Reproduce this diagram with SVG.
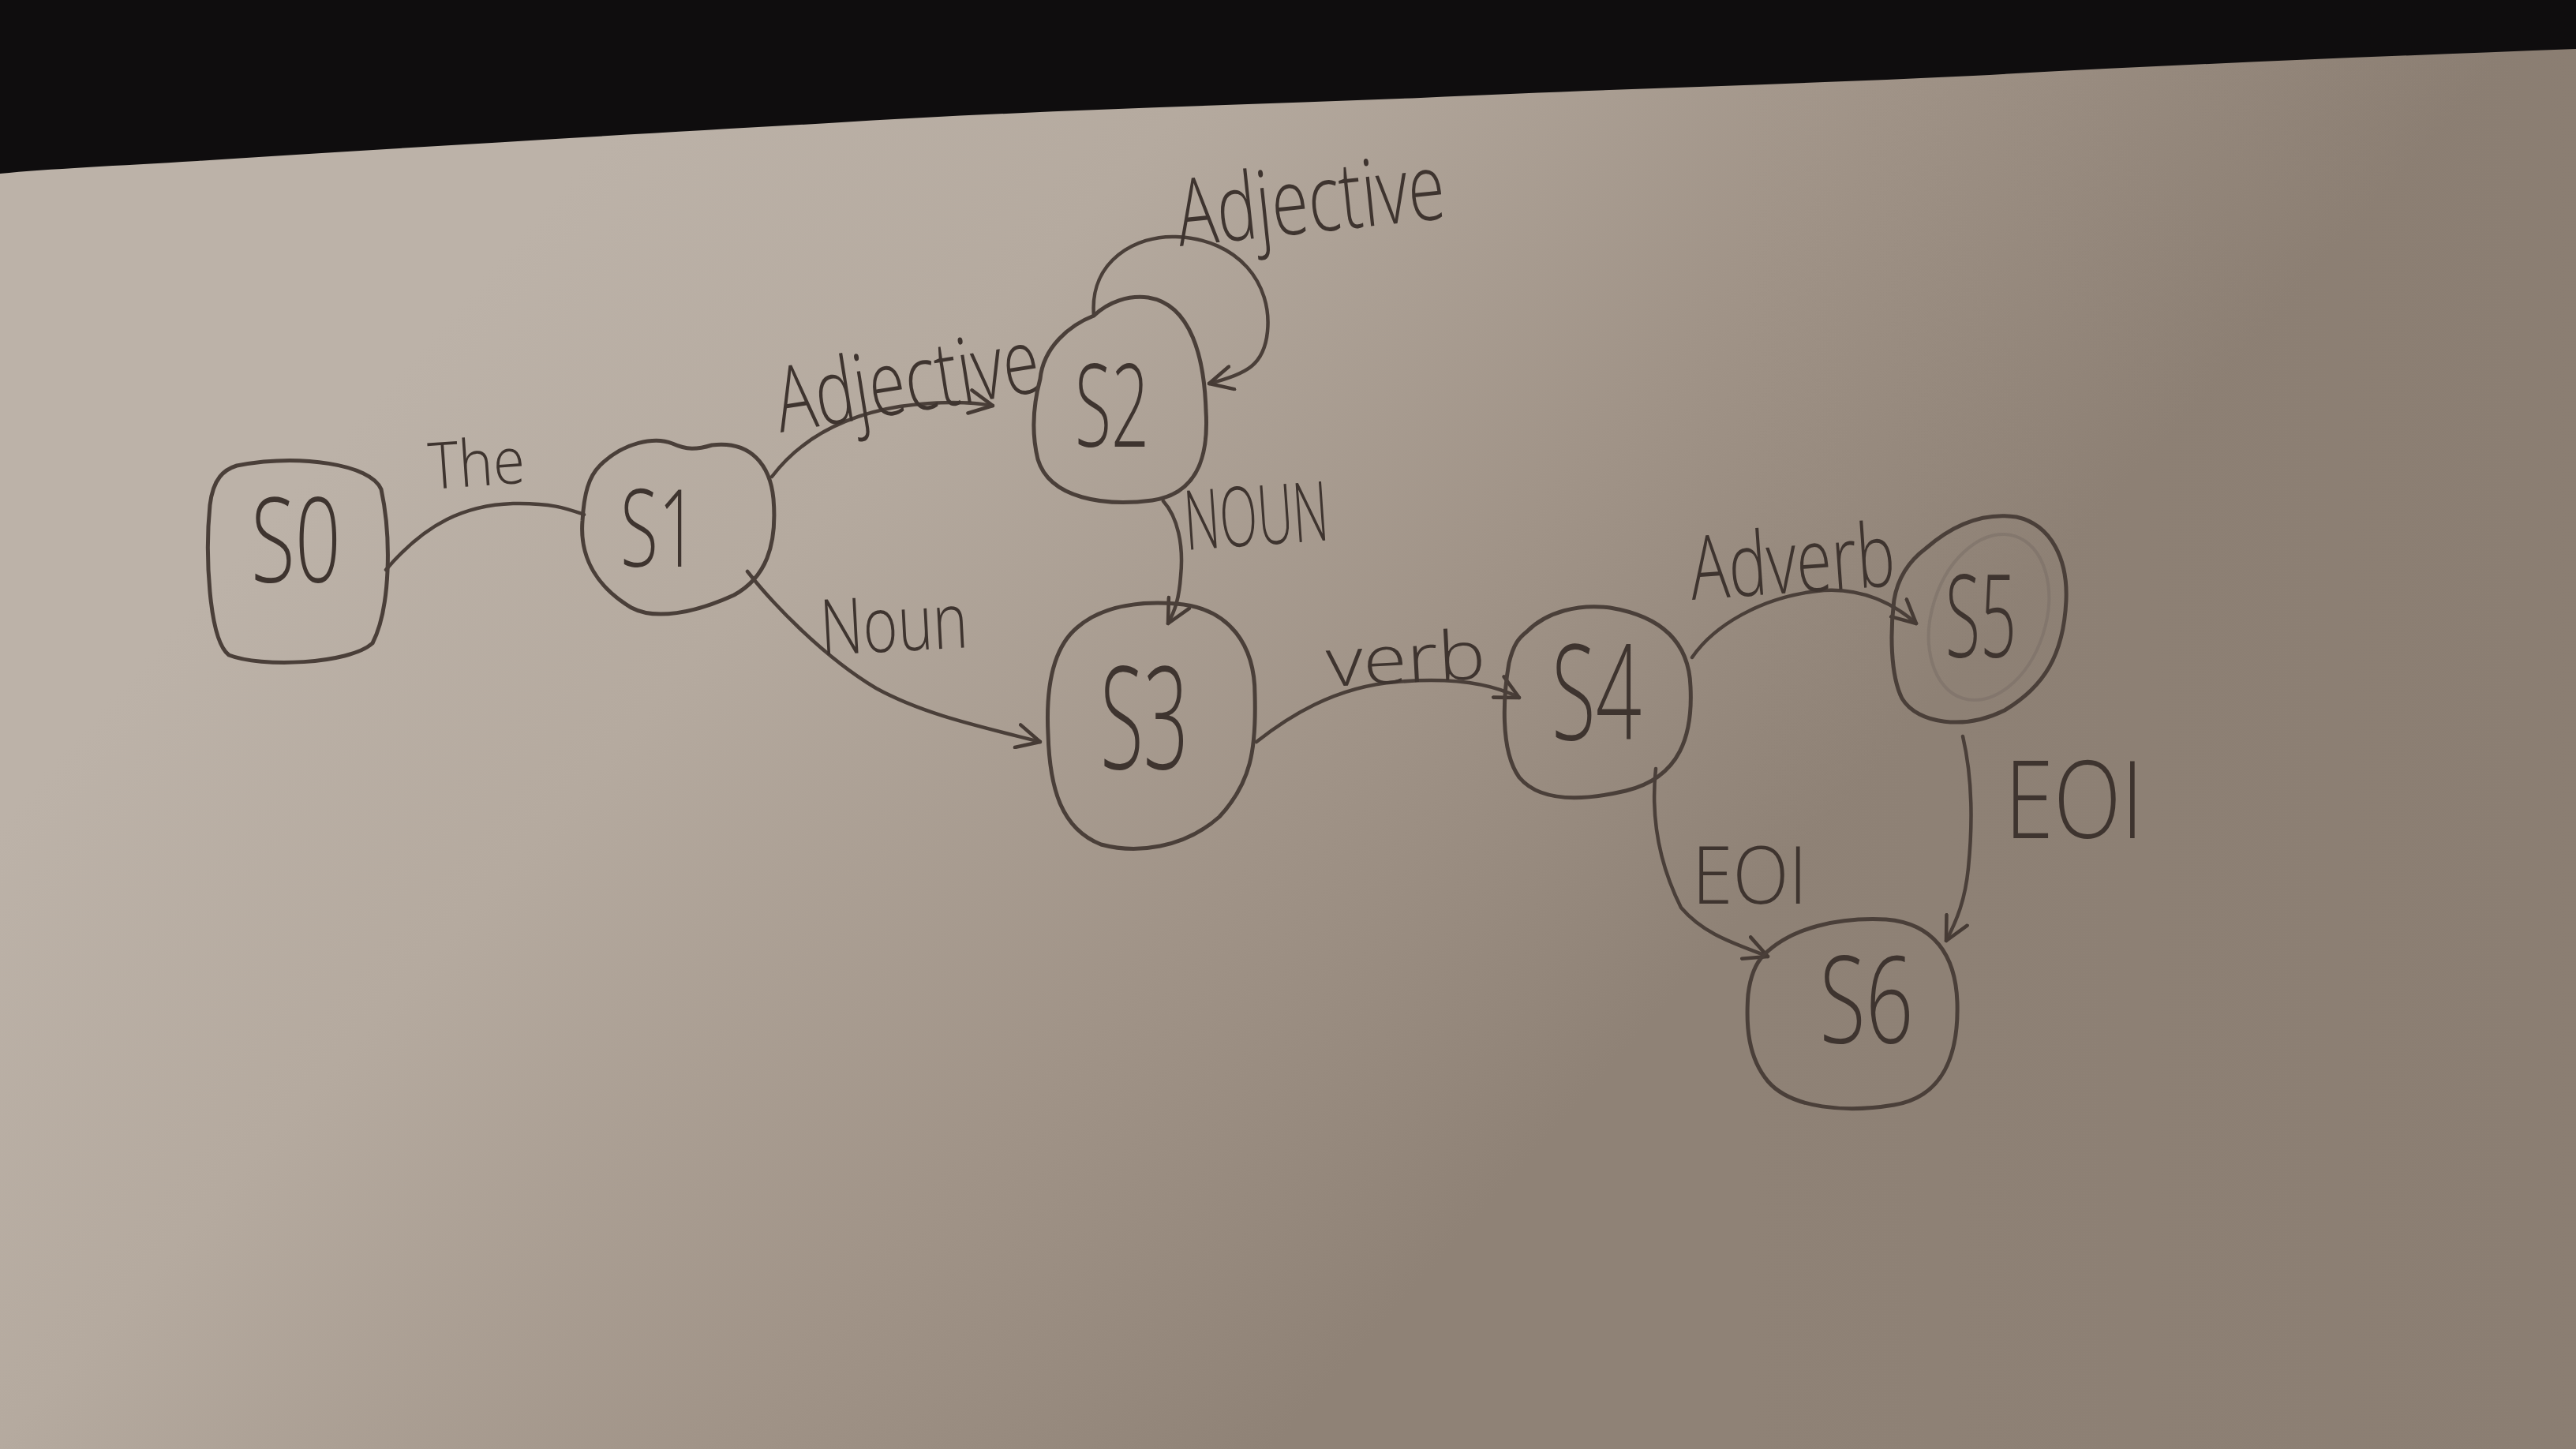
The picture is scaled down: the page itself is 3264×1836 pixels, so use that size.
<svg xmlns="http://www.w3.org/2000/svg" width="3264" height="1836" viewBox="0 0 3264 1836">
<defs>
<linearGradient id="paper" x1="700" y1="250" x2="2000" y2="1400" gradientUnits="userSpaceOnUse">
<stop offset="0" stop-color="#bcb2a8"/>
<stop offset="0.3" stop-color="#b5aa9f"/>
<stop offset="0.7" stop-color="#a09387"/>
<stop offset="1" stop-color="#8f8276"/>
</linearGradient>
<linearGradient id="shade" x1="2200" y1="0" x2="3264" y2="0" gradientUnits="userSpaceOnUse">
<stop offset="0" stop-color="#7a6d62" stop-opacity="0"/>
<stop offset="1" stop-color="#7a6d62" stop-opacity="0.2"/>
</linearGradient>
<marker id="arr" viewBox="0 0 30 30" refX="28" refY="15" markerWidth="34" markerHeight="34" markerUnits="userSpaceOnUse" orient="auto">
<path d="M2,2 L28,15 L2,28" fill="none" stroke="#463b35" stroke-width="4" stroke-linecap="round" stroke-linejoin="round"/>
</marker>
<style>
.n{fill:none;stroke:#4a3f39;stroke-width:5;stroke-linecap:round;stroke-linejoin:round}
.e{fill:none;stroke:#4a3f39;stroke-width:4.5;stroke-linecap:round}
.t{font-family:"Open Sans","Liberation Sans",sans-serif;font-weight:300;fill:#3e342f}
</style>
</defs>
<rect x="0" y="0" width="3264" height="1836" fill="url(#paper)"/>
<rect x="0" y="0" width="3264" height="1836" fill="url(#shade)"/>
<path d="M0,0 H3264 V62 C3000,72 2750,82 2500,96 C2250,108 2050,112 1800,124 C1550,134 1300,140 1050,156 C800,170 500,188 250,204 C150,210 60,214 0,220 Z" fill="#0f0d0e"/>

<g id="connectors">
<path id="e-s0-s1" class="e" d="M489,722 C540,662 590,640 650,638 C700,637 720,645 740,652"/>
<path id="e-s1-s2" class="e" marker-end="url(#arr)" d="M978,604 C1010,562 1060,528 1140,515 C1200,507 1235,510 1258,514"/>
<path id="e-s2-s2" class="e" marker-end="url(#arr)" d="M1386,400 C1380,330 1440,298 1490,300 C1570,303 1612,360 1606,420 C1602,462 1580,474 1532,486"/>
<path id="e-s2-s3" class="e" marker-end="url(#arr)" d="M1474,635 C1492,655 1500,690 1496,730 C1494,760 1488,775 1480,790"/>
<path id="e-s1-s3" class="e" marker-end="url(#arr)" d="M947,724 C975,760 1040,830 1110,872 C1170,905 1240,920 1318,940"/>
<path id="e-s3-s4" class="e" marker-end="url(#arr)" d="M1592,940 C1630,910 1690,870 1770,864 C1840,858 1890,866 1925,884"/>
<path id="e-s4-s5" class="e" marker-end="url(#arr)" d="M2144,833 C2170,795 2230,755 2311,748 C2360,745 2400,765 2428,790"/>
<path id="e-s4-s6" class="e" marker-end="url(#arr)" d="M2098,974 C2092,1030 2100,1090 2130,1150 C2160,1185 2200,1196 2240,1212"/>
<path id="e-s5-s6" class="e" marker-end="url(#arr)" d="M2487,933 C2498,980 2500,1040 2494,1100 C2490,1140 2480,1165 2466,1192"/>
<text class="t" x="545" y="620" font-size="82" textLength="122" lengthAdjust="spacingAndGlyphs" transform="rotate(-4 545 620)">The</text>
<text class="t" x="989" y="548" font-size="115" textLength="337" lengthAdjust="spacingAndGlyphs" transform="rotate(-9 989 548)">Adjective</text>
<text class="t" x="1495" y="312" font-size="118" textLength="341" lengthAdjust="spacingAndGlyphs" transform="rotate(-6 1495 312)">Adjective</text>
<text class="t" x="1503" y="697" font-size="105" textLength="183" lengthAdjust="spacingAndGlyphs" transform="rotate(-4 1503 697)">NOUN</text>
<text class="t" x="1041" y="830" font-size="98" textLength="187" lengthAdjust="spacingAndGlyphs" transform="rotate(-3 1041 830)">Noun</text>
<text class="t" x="1682" y="870" font-size="86" textLength="202" lengthAdjust="spacingAndGlyphs" transform="rotate(-3 1682 870)">verb</text>
<text class="t" x="2144" y="760" font-size="112" textLength="260" lengthAdjust="spacingAndGlyphs" transform="rotate(-4 2144 760)">Adverb</text>
<text class="t" x="2144" y="1145" font-size="102" textLength="146" lengthAdjust="spacingAndGlyphs">EOI</text>
<text class="t" x="2540" y="1062" font-size="136" textLength="176" lengthAdjust="spacingAndGlyphs">EOI</text>
</g>

<g id="S0">
<path class="n" d="M300,590 C380,575 470,588 483,620 C496,680 495,770 472,815 C442,842 330,846 290,830 C264,810 260,700 266,640 C270,606 284,595 300,590 Z"/>
<text class="t" x="375" y="738" font-size="150" text-anchor="middle" textLength="114" lengthAdjust="spacingAndGlyphs">S0</text>
</g>
<g id="S1">
<path class="n" d="M760,590 C790,560 830,553 852,562 C870,570 882,570 902,564 C952,558 976,590 980,632 C985,692 970,732 930,754 C880,777 830,786 800,770 C760,746 734,710 738,660 C740,625 746,604 760,590 Z"/>
<text class="t" x="835" y="718" font-size="136" text-anchor="middle" textLength="98" lengthAdjust="spacingAndGlyphs">S1</text>
</g>
<g id="S2">
<path class="n" d="M1318,480 C1322,440 1355,412 1386,400 C1405,382 1430,374 1455,377 C1510,386 1526,455 1528,520 C1532,582 1515,626 1460,634 C1400,642 1330,632 1315,582 C1306,545 1310,510 1318,480 Z"/>
<text class="t" x="1409" y="566" font-size="145" text-anchor="middle" textLength="94" lengthAdjust="spacingAndGlyphs">S2</text>
</g>
<g id="S3">
<path class="n" d="M1365,795 C1400,765 1450,762 1490,765 C1560,770 1590,820 1590,880 C1592,950 1585,992 1545,1035 C1500,1075 1440,1082 1395,1070 C1345,1050 1330,1000 1328,930 C1325,870 1335,820 1365,795 Z"/>
<text class="t" x="1450" y="974" font-size="180" text-anchor="middle" textLength="112" lengthAdjust="spacingAndGlyphs">S3</text>
</g>
<g id="S4">
<path class="n" d="M1935,800 C1960,775 2000,765 2040,770 C2100,780 2140,810 2142,870 C2145,930 2130,985 2060,1002 C2000,1016 1950,1015 1925,985 C1900,950 1905,880 1912,840 C1918,815 1925,808 1935,800 Z"/>
<text class="t" x="2023" y="937" font-size="168" text-anchor="middle" textLength="114" lengthAdjust="spacingAndGlyphs">S4</text>
</g>
<g id="S5">
<path class="n" d="M2440,695 C2480,660 2520,650 2555,655 C2600,665 2620,710 2618,760 C2615,830 2590,870 2540,900 C2490,925 2430,918 2410,885 C2395,855 2395,800 2400,760 C2405,730 2420,710 2440,695 Z"/>
<ellipse cx="2520" cy="782" rx="72" ry="108" transform="rotate(18 2520 782)" fill="none" stroke="#7c7068" stroke-width="4" opacity="0.6"/>
<text class="t" x="2510" y="833" font-size="145" text-anchor="middle" textLength="90" lengthAdjust="spacingAndGlyphs">S5</text>
</g>
<g id="S6">
<path class="n" d="M2235,1210 C2270,1175 2330,1162 2390,1165 C2450,1170 2478,1210 2480,1270 C2482,1340 2460,1390 2400,1400 C2340,1410 2270,1405 2240,1370 C2215,1340 2212,1300 2215,1260 C2218,1235 2225,1220 2235,1210 Z"/>
<text class="t" x="2365" y="1322" font-size="153" text-anchor="middle" textLength="119" lengthAdjust="spacingAndGlyphs">S6</text>
</g>
</svg>
